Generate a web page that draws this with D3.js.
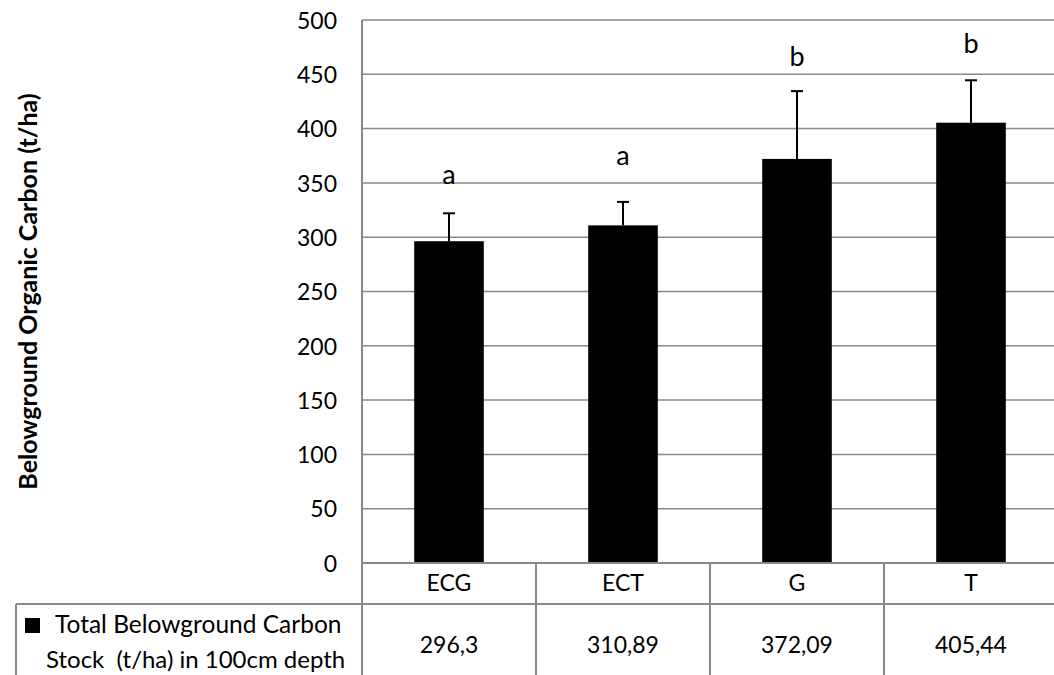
<!DOCTYPE html>
<html>
<head>
<meta charset="utf-8">
<script src="https://cdn.jsdelivr.net/npm/d3@7"></script>
<style>
  body { margin: 0; background: #fff; }
  svg { display: block; font-family: Lato, "Open Sans", sans-serif; }
</style>
</head>
<body>
<svg id="chart" width="1054" height="675"></svg>
<script>
const categories = ["ECG", "ECT", "G", "T"];
const carbonStock = [296.3, 310.89, 372.09, 405.44];
const errorTop = [322, 332.5, 434.5, 444.5];
const groupLetters = ["a", "a", "b", "b"];
const letterLevel = [349, 366.5, 458, 470];
const yTicks = [0, 50, 100, 150, 200, 250, 300, 350, 400, 450, 500];
const seriesName = ["Total Belowground Carbon", "Stock  (t/ha) in 100cm depth"];

const svg = d3.select("#chart");
const width = 1054;
const height = 675;
const margin = { top: 20, left: 362, right: -4, bottom: 112 };
const gridColor = "#898989";
const fontSize = 23;

const data = categories.map((c, i) => ({
  cat: c,
  value: carbonStock[i],
  err: errorTop[i],
  letter: groupLetters[i],
  letterY: letterLevel[i]
}));

const x = d3.scaleBand()
  .domain(categories)
  .range([margin.left, width - margin.right])
  .padding(0);

const y = d3.scaleLinear()
  .domain([0, 500])
  .range([height - margin.bottom, margin.top]);

const y0 = y(0);
const barW = x.bandwidth() * 0.4;

// gridlines
svg.append("g")
  .selectAll("line")
  .data(yTicks.filter(t => t > 0))
  .enter()
  .append("line")
  .attr("x1", margin.left)
  .attr("x2", width)
  .attr("y1", d => y(d))
  .attr("y2", d => y(d))
  .attr("stroke", gridColor)
  .attr("stroke-width", 1.5);

// y axis
const yAxis = svg.append("g")
  .attr("transform", `translate(${margin.left},0)`)
  .call(d3.axisLeft(y).tickValues(yTicks).tickSize(0).tickPadding(25));
yAxis.select(".domain").remove();
yAxis.selectAll("text")
  .attr("font-size", fontSize + "px")
  .attr("font-family", "Lato, sans-serif")
  .attr("fill", "#000")
  .attr("dy", "0.36em");

// bars
svg.append("g")
  .selectAll("rect")
  .data(data)
  .enter()
  .append("rect")
  .attr("x", d => x(d.cat) + (x.bandwidth() - barW) / 2)
  .attr("y", d => y(d.value))
  .attr("width", barW)
  .attr("height", d => y0 - y(d.value))
  .attr("fill", "#000");

// error bars
const err = svg.append("g")
  .attr("stroke", "#000")
  .attr("stroke-width", 2);

err.selectAll(".stem")
  .data(data)
  .enter()
  .append("line")
  .attr("x1", d => x(d.cat) + x.bandwidth() / 2)
  .attr("x2", d => x(d.cat) + x.bandwidth() / 2)
  .attr("y1", d => y(d.value))
  .attr("y2", d => y(d.err));

err.selectAll(".cap")
  .data(data)
  .enter()
  .append("line")
  .attr("x1", d => x(d.cat) + x.bandwidth() / 2 - 6)
  .attr("x2", d => x(d.cat) + x.bandwidth() / 2 + 6)
  .attr("y1", d => y(d.err))
  .attr("y2", d => y(d.err));

// significance letters
svg.append("g")
  .selectAll("text")
  .data(data)
  .enter()
  .append("text")
  .attr("x", d => x(d.cat) + x.bandwidth() / 2)
  .attr("y", d => y(d.letterY))
  .attr("text-anchor", "middle")
  .attr("font-size", "27px")
  .text(d => d.letter);

// data table
const rowTop = y0;
const row2Top = y0 + 41;
const tableLeft = 16;
const table = svg.append("g")
  .attr("stroke", gridColor)
  .attr("stroke-width", 2);

table.append("line")
  .attr("x1", margin.left).attr("x2", width)
  .attr("y1", rowTop).attr("y2", rowTop);
table.append("line")
  .attr("x1", tableLeft).attr("x2", width)
  .attr("y1", row2Top).attr("y2", row2Top);
table.append("line")
  .attr("x1", tableLeft).attr("x2", tableLeft)
  .attr("y1", row2Top).attr("y2", height);
table.append("line")
  .attr("x1", margin.left).attr("x2", margin.left)
  .attr("y1", margin.top).attr("y2", height);
table.selectAll(".div")
  .data(categories.slice(1))
  .enter()
  .append("line")
  .attr("x1", d => x(d)).attr("x2", d => x(d))
  .attr("y1", rowTop).attr("y2", height);

svg.append("g")
  .selectAll("text")
  .data(data)
  .enter()
  .append("text")
  .attr("x", d => x(d.cat) + x.bandwidth() / 2)
  .attr("y", rowTop + 28)
  .attr("text-anchor", "middle")
  .attr("font-size", fontSize + "px")
  .text(d => d.cat);

svg.append("g")
  .selectAll("text")
  .data(data)
  .enter()
  .append("text")
  .attr("x", d => x(d.cat) + x.bandwidth() / 2)
  .attr("y", row2Top + 49)
  .attr("text-anchor", "middle")
  .attr("font-size", fontSize + "px")
  .text(d => String(d.value).replace(".", ","));

// legend key + series name
svg.append("rect")
  .attr("x", 25)
  .attr("y", row2Top + 14)
  .attr("width", 15)
  .attr("height", 15)
  .attr("fill", "#000");

svg.append("text")
  .attr("x", 55)
  .attr("y", row2Top + 29)
  .attr("font-size", "24.5px")
  .style("white-space", "pre")
  .text(seriesName[0]);

svg.append("text")
  .attr("x", 46)
  .attr("y", row2Top + 64)
  .attr("font-size", "24px")
  .style("white-space", "pre")
  .text(seriesName[1]);

// y axis title
svg.append("text")
  .attr("transform", `translate(37,${(margin.top + y0) / 2}) rotate(-90)`)
  .attr("text-anchor", "middle")
  .attr("font-size", "25px")
  .attr("font-weight", "bold")
  .text("Belowground Organic Carbon (t/ha)");
</script>
</body>
</html>
